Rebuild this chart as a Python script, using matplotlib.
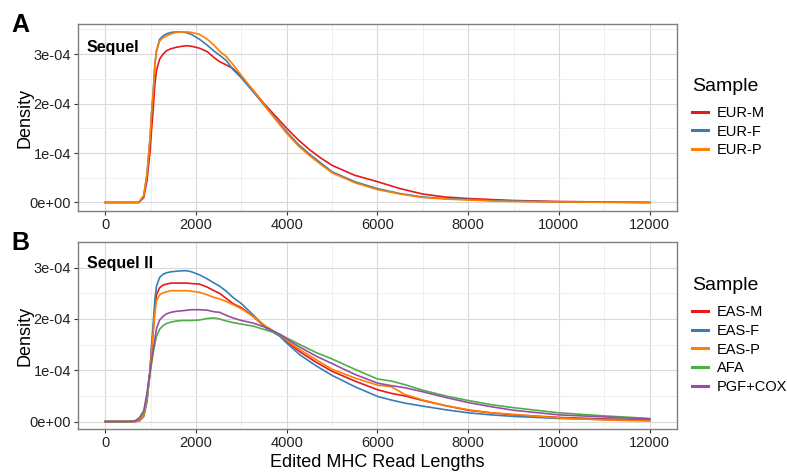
import matplotlib
matplotlib.use('Agg')
import matplotlib.pyplot as plt
import numpy as np

plt.rcParams['font.family'] = ['Liberation Sans', 'DejaVu Sans']

# Panel A (Sequel) - density values in units of 1e-4
x_a = [0, 500, 740, 850, 920, 990, 1020, 1060, 1095, 1130, 1200, 1275, 1350, 1450, 1570,
       1700, 1800, 1900, 2080, 2250, 2400, 2520, 2670, 2815, 3000, 3250, 3500, 3750, 4000,
       4250, 4500, 4750, 5000, 5500, 6000, 6500, 7000, 7500, 8000, 8500, 9000, 10000,
       11000, 12000]
eur_m = [0, 0, 0, 0.1, 0.44, 1.05, 1.45, 1.92, 2.4, 2.67, 2.9, 3.0, 3.07, 3.11, 3.14,
         3.16, 3.17, 3.16, 3.12, 3.05, 2.93, 2.85, 2.78, 2.71, 2.54, 2.28, 2.0, 1.75, 1.50,
         1.27, 1.07, 0.90, 0.75, 0.55, 0.42, 0.28, 0.17, 0.11, 0.08, 0.06, 0.04, 0.02,
         0.01, 0.0]
eur_f = [0, 0, 0, 0.14, 0.57, 1.32, 1.79, 2.26, 2.80, 3.07, 3.30, 3.37, 3.41, 3.44, 3.45,
         3.45, 3.43, 3.40, 3.30, 3.18, 3.06, 2.98, 2.87, 2.69, 2.52, 2.25, 1.97, 1.70, 1.43,
         1.18, 0.98, 0.80, 0.62, 0.42, 0.28, 0.18, 0.11, 0.08, 0.06, 0.04, 0.03, 0.01,
         0.005, 0.0]
eur_p = [0, 0, 0, 0.14, 0.57, 1.32, 1.79, 2.26, 2.80, 3.05, 3.27, 3.33, 3.37, 3.41, 3.44,
         3.45, 3.45, 3.44, 3.40, 3.30, 3.18, 3.06, 2.95, 2.79, 2.57, 2.28, 1.98, 1.68, 1.40,
         1.15, 0.95, 0.77, 0.60, 0.40, 0.26, 0.17, 0.10, 0.07, 0.05, 0.03, 0.02, 0.01,
         0.005, 0.0]

# Panel B (Sequel II)
x_b = [0, 500, 650, 750, 850, 920, 990, 1020, 1060, 1095, 1130, 1200, 1275, 1350, 1450,
       1570, 1700, 1800, 1900, 2080, 2250, 2400, 2520, 2670, 2815, 3000, 3260, 3555, 3850,
       4000, 4290, 4660, 5000, 5500, 6000, 6300, 6600, 7000, 7500, 8000, 8500, 9000,
       10000, 11000, 12000]
eas_m = [0, 0, 0, 0.01, 0.13, 0.44, 1.01, 1.41, 1.81, 2.21, 2.47, 2.61, 2.66, 2.68, 2.70,
         2.70, 2.70, 2.70, 2.69, 2.68, 2.62, 2.55, 2.50, 2.40, 2.30, 2.22, 2.05, 1.82, 1.69,
         1.56, 1.36, 1.15, 0.98, 0.79, 0.62, 0.55, 0.50, 0.41, 0.31, 0.22, 0.17, 0.13,
         0.08, 0.05, 0.03]
eas_f = [0, 0, 0, 0.01, 0.1, 0.38, 1.01, 1.47, 1.93, 2.38, 2.64, 2.81, 2.87, 2.90, 2.92,
         2.93, 2.94, 2.94, 2.92, 2.86, 2.78, 2.70, 2.64, 2.54, 2.42, 2.30, 2.08, 1.82, 1.66,
         1.53, 1.30, 1.08, 0.90, 0.68, 0.49, 0.42, 0.36, 0.30, 0.23, 0.17, 0.13, 0.10,
         0.06, 0.04, 0.03]
eas_p = [0, 0, 0, 0.01, 0.12, 0.44, 0.95, 1.35, 1.75, 2.13, 2.36, 2.47, 2.51, 2.53, 2.55,
         2.55, 2.55, 2.55, 2.54, 2.52, 2.47, 2.42, 2.39, 2.34, 2.28, 2.20, 2.05, 1.85, 1.69,
         1.58, 1.40, 1.20, 1.02, 0.85, 0.71, 0.68, 0.53, 0.42, 0.31, 0.23, 0.17, 0.14,
         0.07, 0.03, 0.01]
afa = [0, 0, 0.01, 0.05, 0.18, 0.50, 0.93, 1.12, 1.35, 1.52, 1.66, 1.80, 1.87, 1.91, 1.94,
       1.96, 1.97, 1.97, 1.97, 1.98, 2.01, 2.02, 2.00, 1.96, 1.93, 1.90, 1.86, 1.78, 1.70,
       1.63, 1.50, 1.34, 1.22, 1.02, 0.83, 0.79, 0.72, 0.61, 0.50, 0.41, 0.33, 0.27,
       0.17, 0.11, 0.06]
pgf_cox = [0, 0, 0.01, 0.07, 0.21, 0.55, 1.01, 1.18, 1.42, 1.62, 1.81, 1.98, 2.05, 2.10,
           2.13, 2.15, 2.16, 2.17, 2.18, 2.18, 2.17, 2.14, 2.13, 2.07, 2.02, 1.97, 1.92,
           1.83, 1.70, 1.61, 1.45, 1.27, 1.13, 0.92, 0.75, 0.70, 0.66, 0.58, 0.47, 0.37,
           0.29, 0.22, 0.13, 0.09, 0.05]

labels_a = ['EUR-M', 'EUR-F', 'EUR-P']
labels_b = ['EAS-M', 'EAS-F', 'EAS-P', 'AFA', 'PGF+COX']
colors_a = ['#E41A1C', '#377EB8', '#FF7F00']
colors_b = ['#E41A1C', '#377EB8', '#FF7F00', '#4DAF4A', '#984EA3']

x_ticks = [0, 2000, 4000, 6000, 8000, 10000, 12000]
y_ticks = [0, 1e-4, 2e-4, 3e-4]
y_ticklabels = ['0e+00', '1e-04', '2e-04', '3e-04']


def style_axis(ax, ylim):
    ax.set_xlim(-600, 12600)
    ax.set_ylim(*ylim)
    ax.set_xticks(x_ticks)
    ax.set_xticks([1000, 3000, 5000, 7000, 9000, 11000], minor=True)
    ax.set_yticks(y_ticks)
    ax.set_yticks([0.5e-4, 1.5e-4, 2.5e-4, 3.5e-4], minor=True)
    ax.set_yticklabels(y_ticklabels)
    ax.grid(which='major', color='#D9D9D9', lw=0.8)
    ax.grid(which='minor', color='#EDEDED', lw=0.6)
    ax.set_axisbelow(True)
    for s in ax.spines.values():
        s.set_color('#7F7F7F')
        s.set_linewidth(1.0)
    ax.tick_params(which='major', length=3, width=0.8, color='#333333',
                   labelsize=10.5, labelcolor='#222222', pad=2)
    ax.tick_params(which='minor', length=0)
    ax.set_ylabel('Density', fontsize=13)
    ax.yaxis.set_label_coords(-0.075, 0.5)


fig = plt.figure(figsize=(7.87, 4.74), dpi=100)
ax1 = fig.add_axes([0.0991, 0.5549, 0.761, 0.3945])
ax2 = fig.add_axes([0.0991, 0.0949, 0.761, 0.3945])

for ys, lab, c in zip([eur_m, eur_f, eur_p], labels_a, colors_a):
    ax1.plot(x_a, np.array(ys) * 1e-4, color=c, lw=1.2, label=lab)
style_axis(ax1, (-0.172e-4, 3.61e-4))
ax1.text(0.015, 0.85, 'Sequel', transform=ax1.transAxes, fontsize=11.5,
         fontweight='bold', va='baseline')

for ys, lab, c in zip([eas_m, eas_f, eas_p, afa, pgf_cox], labels_b, colors_b):
    ax2.plot(x_b, np.array(ys) * 1e-4, color=c, lw=1.2, label=lab)
style_axis(ax2, (-0.146e-4, 3.07e-4))
ax2.text(0.015, 0.861, 'Sequel II', transform=ax2.transAxes, fontsize=11.5,
         fontweight='bold', va='baseline')
ax2.set_xlabel('Edited MHC Read Lengths', fontsize=13)
ax2.xaxis.set_label_coords(0.5, -0.135)

for ax in (ax1, ax2):
    leg = ax.legend(loc='center left', bbox_to_anchor=(1.025, 0.5), frameon=False,
                    fontsize=10.5, title='Sample', title_fontsize=14,
                    handlelength=1.1, handletextpad=0.6, labelspacing=0.33,
                    borderpad=0, borderaxespad=0)
    leg._legend_box.align = 'left'
    leg._legend_box.sep = 8
    for h in leg.legend_handles:
        h.set_linewidth(2.2)

fig.text(11 / 787, 1 - 32 / 474, 'A', fontsize=18, fontweight='bold')
fig.text(11 / 787, 1 - 250 / 474, 'B', fontsize=18, fontweight='bold')

plt.savefig('out.png', dpi=100)
